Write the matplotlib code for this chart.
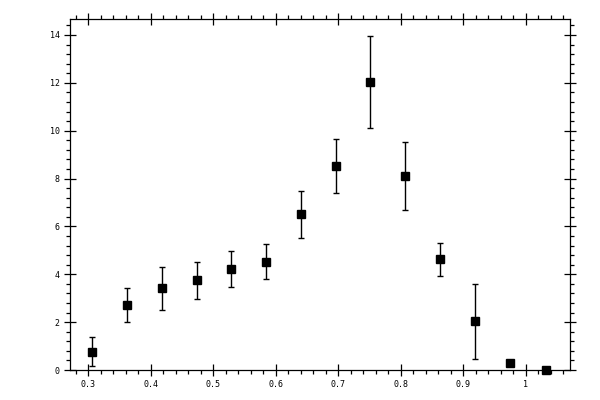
import matplotlib
matplotlib.use("Agg")
import matplotlib.pyplot as plt
from matplotlib.ticker import MultipleLocator

# bin centres and values
x = [0.306, 0.362, 0.418, 0.474, 0.529, 0.585, 0.641,
     0.696, 0.751, 0.807, 0.862, 0.918, 0.974, 1.032]
y = [0.75, 2.72, 3.43, 3.77, 4.23, 4.52, 6.53,
     8.54, 12.02, 8.12, 4.65, 2.05, 0.29, 0.0]
y_lo = [0.17, 2.01, 2.51, 2.97, 3.48, 3.81, 5.53,
        7.41, 10.13, 6.70, 3.94, 0.46, 0.29, 0.0]
y_hi = [1.37, 3.43, 4.30, 4.52, 4.98, 5.26, 7.50,
        9.67, 13.94, 9.53, 5.32, 3.60, 0.29, 0.0]

err = [[v - lo for v, lo in zip(y, y_lo)], [hi - v for v, hi in zip(y, y_hi)]]

plt.rcParams['font.family'] = ['DejaVu Sans Mono']

fig = plt.figure(figsize=(6, 4), dpi=100)
ax = fig.add_axes([0.116, 0.075, 0.834, 0.877])

ax.errorbar(x, y, yerr=err, fmt='s', color='black', ms=5.5, elinewidth=1,
            capsize=2.2, capthick=1, clip_on=False)

ax.set_xlim(0.27, 1.0707)
ax.set_ylim(0, 14.66)

ax.xaxis.set_major_locator(MultipleLocator(0.1))
ax.xaxis.set_minor_locator(MultipleLocator(0.02))
ax.yaxis.set_major_locator(MultipleLocator(2))
ax.yaxis.set_minor_locator(MultipleLocator(0.4))
ax.xaxis.set_major_formatter(plt.FuncFormatter(lambda v, p: ('%g' % round(v, 2))))

for s in ax.spines.values():
    s.set_linewidth(0.9)

ax.tick_params(which='major', direction='inout', length=8, width=0.9,
               top=True, right=True, labelsize=6, pad=3)
ax.tick_params(which='minor', direction='out', length=3, width=0.9,
               top=True, right=True)

fig.savefig('out.png', dpi=100)
